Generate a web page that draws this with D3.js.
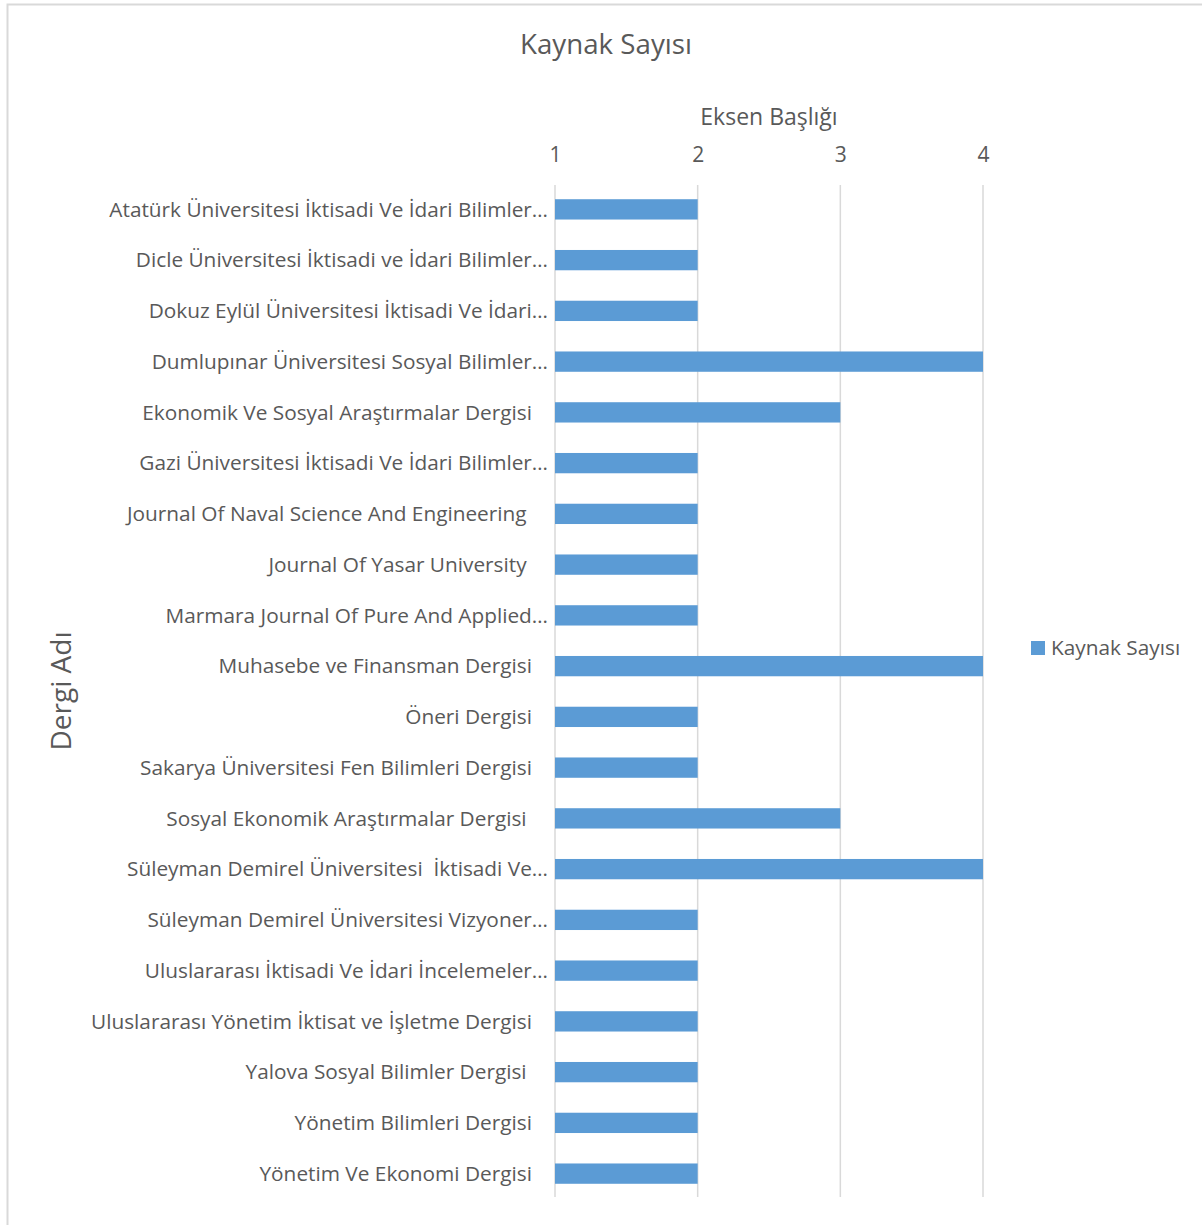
<!DOCTYPE html>
<html><head><meta charset="utf-8">
<script src="https://cdn.jsdelivr.net/npm/d3@7"></script>
<style>
html,body{margin:0;padding:0;background:#fff;}
svg text{font-family:"Open Sans",sans-serif;fill:#595959;white-space:pre;}
</style></head><body>
<script>
const categories = [
  "Atatürk Üniversitesi İktisadi Ve İdari Bilimler…",
  "Dicle Üniversitesi İktisadi ve İdari Bilimler…",
  "Dokuz Eylül Üniversitesi İktisadi Ve İdari…",
  "Dumlupınar Üniversitesi Sosyal Bilimler…",
  "Ekonomik Ve Sosyal Araştırmalar Dergisi",
  "Gazi Üniversitesi İktisadi Ve İdari Bilimler…",
  "Journal Of Naval Science And Engineering ",
  "Journal Of Yasar University ",
  "Marmara Journal Of Pure And Applied…",
  "Muhasebe ve Finansman Dergisi",
  "Öneri Dergisi",
  "Sakarya Üniversitesi Fen Bilimleri Dergisi",
  "Sosyal Ekonomik Araştırmalar Dergisi ",
  "Süleyman Demirel Üniversitesi  İktisadi Ve…",
  "Süleyman Demirel Üniversitesi Vizyoner…",
  "Uluslararası İktisadi Ve İdari İncelemeler…",
  "Uluslararası Yönetim İktisat ve İşletme Dergisi",
  "Yalova Sosyal Bilimler Dergisi ",
  "Yönetim Bilimleri Dergisi",
  "Yönetim Ve Ekonomi Dergisi"
];
const values = [2,2,2,4,3,2,2,2,2,4,2,2,3,4,2,2,2,2,2,2];
const xTicks = [1,2,3,4];
const seriesName = "Kaynak Sayısı";
const chartTitle = "Kaynak Sayısı";
const xTitle = "Eksen Başlığı";
const yTitle = "Dergi Adı";

const W = 1202, H = 1225;
const svg = d3.select("body").append("svg").attr("width", W).attr("height", H);
svg.append("rect").attr("x",7.5).attr("y",4.5).attr("width",1200).attr("height",1240)
  .attr("fill","#fff").attr("stroke","#d9d9d9").attr("stroke-width",2);

const x = d3.scaleLinear().domain([1,4]).range([555,983]);
const y = d3.scaleBand().domain(categories).range([184,1199]).paddingInner(0.6).paddingOuter(0.3);

// gridlines
svg.append("g").selectAll("line").data(xTicks).join("line")
  .attr("x1",d=>x(d)).attr("x2",d=>x(d)).attr("y1",185).attr("y2",1197)
  .attr("stroke","#d9d9d9").attr("stroke-width",1.5);

// x axis (top)
const xAxis = svg.append("g").attr("transform","translate(0,162)")
  .call(d3.axisTop(x).tickValues(xTicks).tickFormat(d3.format("d")).tickSize(0).tickPadding(0));
xAxis.select(".domain").remove();
xAxis.selectAll("text").attr("font-size",21).attr("font-family","Open Sans").attr("fill","#595959");

// bars
svg.append("g").selectAll("rect").data(values).join("rect")
  .attr("x",x(1)).attr("y",(d,i)=>y(categories[i]))
  .attr("width",d=>x(d)-x(1)).attr("height",y.bandwidth())
  .attr("fill","#5b9bd5");

// category labels
svg.append("g").selectAll("text").data(categories).join("text")
  .attr("x",d=>d.endsWith("…")?548:532)
  .attr("y",d=>y(d)+y.bandwidth()/2)
  .attr("dy","0.35em").attr("text-anchor","end").attr("font-size",20.8)
  .text(d=>d);

// titles
svg.append("text").attr("x",606).attr("y",54).attr("text-anchor","middle").attr("font-size",27.7).text(chartTitle);
svg.append("text").attr("x",769).attr("y",125).attr("text-anchor","middle").attr("font-size",23).text(xTitle);
svg.append("text").attr("transform","translate(71,691) rotate(-90)").attr("text-anchor","middle").attr("font-size",28).text(yTitle);

// legend
svg.append("rect").attr("x",1031).attr("y",641).attr("width",14).attr("height",14).attr("fill","#5b9bd5");
svg.append("text").attr("x",1051).attr("y",648).attr("dy","0.35em").attr("font-size",20.8).text(seriesName);
</script>
</body></html>
